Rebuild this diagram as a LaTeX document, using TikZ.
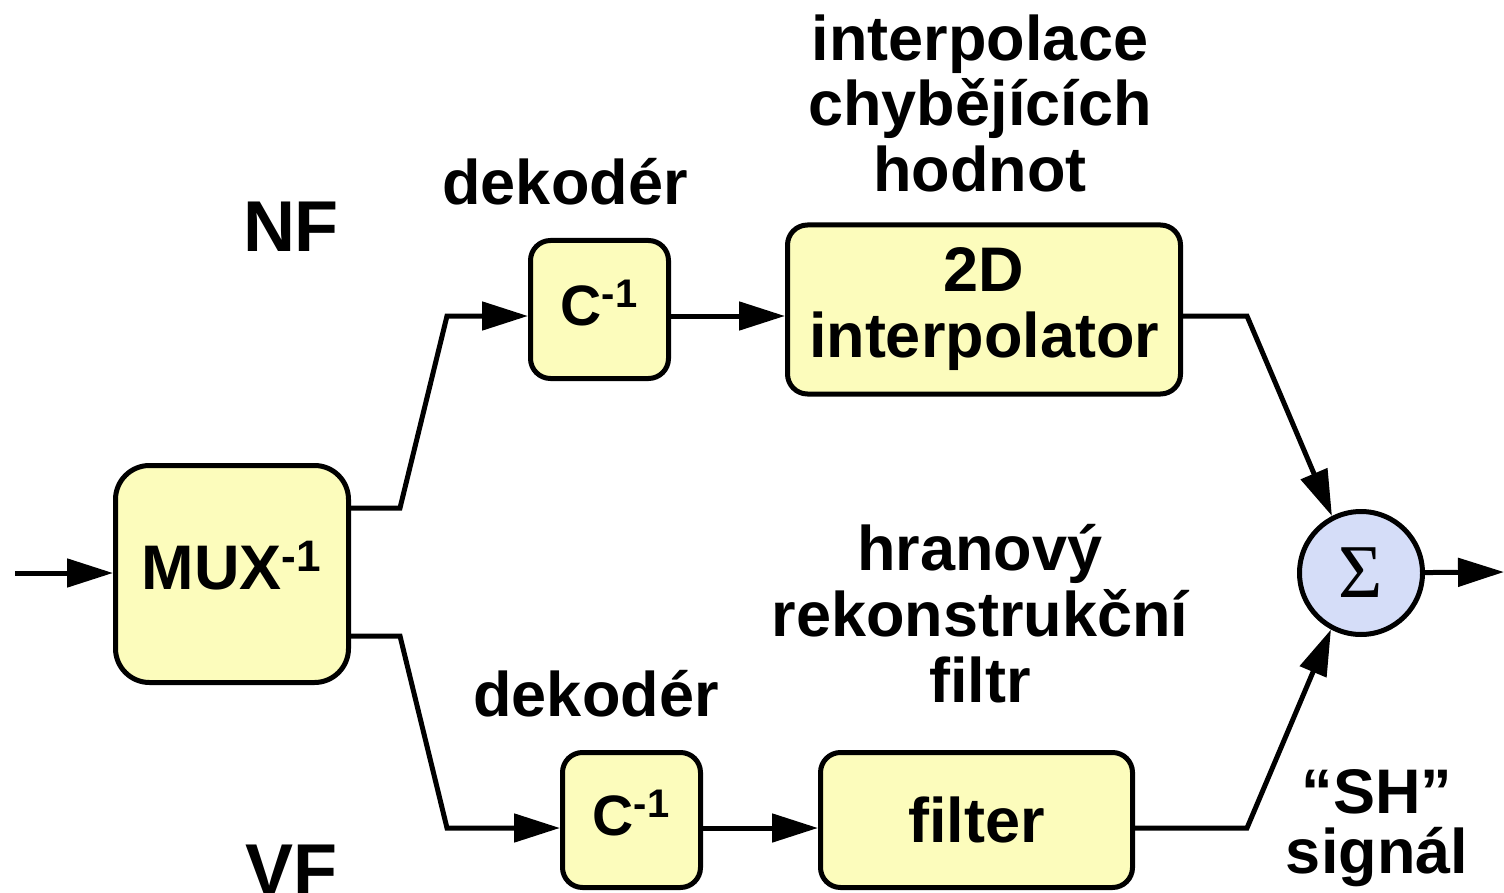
\documentclass[tikz,border=0pt]{standalone}
\usepackage{fontspec}
\setmainfont{Liberation Sans}
\newfontfamily\sigmafont{Liberation Serif}
\usetikzlibrary{positioning, arrows.meta}
\definecolor{boxyellow}{HTML}{FCFCBC}
\definecolor{sumblue}{HTML}{D5DDF8}

\begin{document}
\begin{tikzpicture}[
    x = 0.5pt, y = -0.5pt,
    font = \bfseries\fontsize{31.5}{33}\selectfont,
    block/.style = {
      rectangle, draw, line width = 2.5pt, fill = boxyellow,
      rounded corners = 10pt, inner sep = 0pt, align = center
    },
    small/.style = {
      font = \bfseries\fontsize{28.5}{30}\selectfont, text depth = 7pt
    },
    sumnode/.style = {
      circle, draw, line width = 2.5pt, fill = sumblue,
      inner sep = 0pt, minimum size = 61.5pt
    },
    flow/.style = {
      line width = 2.5pt, -{Triangle[length = 23pt, width = 14pt]}
    },
    note/.style = {
      align = center, anchor = base, inner sep = 0pt
    },
    ]
\useasboundingbox (0,0) rectangle (1504,893);

% blocks
\node  [block, minimum width = 116.5pt, minimum height = 108.5pt, rounded corners = 17pt, text depth = 9pt]  (mux)  at  (232,574)  {MUX\textsuperscript{-1}};
\node  [block, small, minimum width = 69pt, minimum height = 69pt]  (cNF)  at  (599.5,309.5)  {C\textsuperscript{-1}};
\node  [block, minimum width = 196.5pt, minimum height = 84.5pt]  (intNF)  [right = 57pt of cNF]  {2D\\interpolator};
\node  [block, small, minimum width = 69pt, minimum height = 67.5pt]  (cVF)  at  (631.5,820)  {C\textsuperscript{-1}};
\node  [block, minimum width = 156pt, minimum height = 67.5pt]  (filtVF)  [right = 57.5pt of cVF]  {filter};
\node  [sumnode]  (sum)  at  (1361,573)  {\sigmafont\mdseries\fontsize{38}{38}\selectfont Σ};

% labels (base = last line)
\node  [note, font = \bfseries\fontsize{36}{36}\selectfont]  (lNF)  at  (291,252)  {NF};
\node  [note, font = \bfseries\fontsize{36}{36}\selectfont]  (lVF)  at  (291,894)  {VF};
\node  [note]  (dekNF)  at  (565,205)  {dekodér};
\node  [note]  (dekVF)  at  (596,716)  {dekodér};
\node  [note]  (interp)  at  (980,192)  {interpolace\\chybějících\\hodnot};
\node  [note]  (edge)  at  (980,702)  {hranový\\rekonstrukční\\filtr};
\node  [note, font = \bfseries\fontsize{31.5}{30}\selectfont]  (sh)  at  (1377,873)  {“SH”\\signál};

% bends
\coordinate  (in)  at  (15,573);
\coordinate  (out)  at  (1504,572);
\coordinate  (nf1)  at  (400,508);
\coordinate  (nf2)  at  (447,316);
\coordinate  (nf3)  at  (1247,316);
\coordinate  (vf1)  at  (400,636);
\coordinate  (vf2)  at  (447,828);
\coordinate  (vf3)  at  (1247,828);

% connections
\draw  [flow]  (in)  --  (mux.west |- in);
\draw  [flow]  (mux.east |- nf1)  --  (nf1)  --  (nf2)  --  (cNF.west |- nf2);
\draw  [flow]  (cNF.east |- nf2)  --  (intNF.west |- nf2);
\draw  [flow]  (intNF.east |- nf3)  --  (nf3)  --  (sum.117);
\draw  [flow]  (mux.east |- vf1)  --  (vf1)  --  (vf2)  --  (cVF.west |- vf2);
\draw  [flow]  (cVF.east |- vf2)  --  (filtVF.west |- vf2);
\draw  [flow]  (filtVF.east |- vf3)  --  (vf3)  --  (sum.-118);
\draw  [flow]  (sum)  --  (out);
\end{tikzpicture}
\end{document}
